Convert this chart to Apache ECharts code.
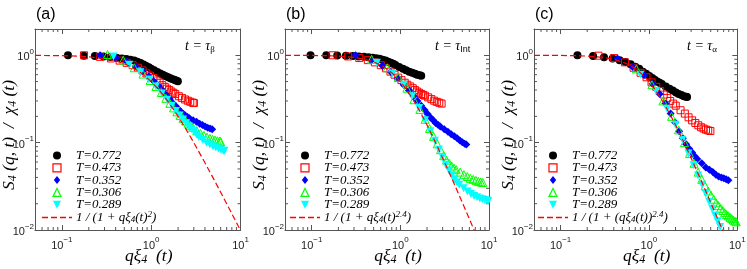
<!DOCTYPE html>
<html><head><meta charset="utf-8">
<script src="https://cdn.jsdelivr.net/npm/echarts@6/dist/echarts.min.js"></script>
<style>html,body{margin:0;padding:0;background:#fff}#c{width:747px;height:269px}</style>
</head><body><div id="c"></div>
<script>
// ---------- categories / labels ----------
const temps = ['T=0.772', 'T=0.473', 'T=0.352', 'T=0.306', 'T=0.289'];
const panelLetters = ['(a)', '(b)', '(c)'];
const panelTimeSub = ['β', 'Int', 'α'];
const fitNames = ['fit2', 'fit24', 'fit24b'];
const xTickValues = [0.1, 1, 10];
const xTickExp = ['−1', '0', '1'];
const yTickValues = [0.01, 0.1, 1];
const yTickExp = ['−2', '−1', '0'];
const xMinor = [0.06,0.07,0.08,0.09,0.2,0.3,0.4,0.5,0.6,0.7,0.8,0.9,2,3,4,5,6,7,8,9];
const yMinor = [0.02,0.03,0.04,0.05,0.06,0.07,0.08,0.09,0.2,0.3,0.4,0.5,0.6,0.7,0.8,0.9];

// ---------- fit curves ----------
const fitA = [[0.05,0.9975],[0.1,0.990],[0.15,0.978],[0.2,0.962],[0.3,0.917],[0.4,0.862],[0.5,0.800],[0.6,0.735],[0.7,0.671],[0.8,0.610],[0.9,0.552],[1.0,0.500],[1.2,0.410],[1.4,0.338],[1.7,0.257],[2,0.200],[2.5,0.138],[3,0.100],[4,0.0588],[5,0.0385],[7,0.0200],[10,0.0099]];
const fitB = [[0.05,0.999],[0.1,0.996],[0.15,0.990],[0.2,0.979],[0.3,0.947],[0.4,0.900],[0.5,0.841],[0.6,0.773],[0.7,0.702],[0.8,0.631],[0.9,0.563],[1.0,0.500],[1.2,0.392],[1.4,0.308],[1.7,0.219],[2,0.159],[2.5,0.0998],[3,0.0668],[4,0.0347],[5,0.0206],[6,0.0134],[7,0.00928]];

// ---------- panel (a) t = tau_beta ----------
const a_T0772 = [[0.117,1.0],[0.176,0.99],[0.234,0.98],[0.293,0.97],[0.351,0.955],[0.41,0.94],[0.468,0.92],[0.527,0.905],[0.585,0.89],[0.644,0.87],[0.70,0.845],[0.76,0.815],[0.82,0.785],[0.88,0.755],[0.94,0.73],[1.0,0.70],[1.08,0.675],[1.17,0.645],[1.26,0.62],[1.35,0.60],[1.44,0.58],[1.53,0.565],[1.62,0.55],[1.71,0.535],[1.81,0.525],[1.90,0.515],[1.99,0.505]];
const a_T0473 = [[0.177,1.0],[0.266,0.96],[0.354,0.92],[0.443,0.87],[0.531,0.82],[0.62,0.77],[0.71,0.72],[0.80,0.67],[0.885,0.62],[0.97,0.585],[1.06,0.55],[1.15,0.515],[1.24,0.485],[1.33,0.455],[1.42,0.435],[1.5,0.415],[1.59,0.40],[1.68,0.385],[1.77,0.372],[1.86,0.36],[2.04,0.34],[2.21,0.325],[2.39,0.312],[2.57,0.302],[2.74,0.294],[2.92,0.287],[3.01,0.284]];
const a_T0352 = [[0.268,1.0],[0.402,0.93],[0.536,0.85],[0.67,0.75],[0.804,0.66],[0.938,0.575],[1.07,0.505],[1.21,0.445],[1.34,0.395],[1.47,0.35],[1.61,0.315],[1.74,0.285],[1.88,0.262],[2.01,0.243],[2.14,0.227],[2.28,0.214],[2.41,0.204],[2.55,0.196],[2.68,0.19],[2.95,0.18],[3.22,0.173],[3.49,0.165],[3.75,0.159],[4.02,0.153],[4.29,0.148],[4.56,0.145],[4.82,0.142]];
const a_T0306 = [[0.324,1.02],[0.486,0.88],[0.648,0.72],[0.81,0.61],[0.972,0.515],[1.13,0.44],[1.30,0.375],[1.46,0.322],[1.62,0.282],[1.78,0.25],[1.94,0.225],[2.11,0.205],[2.27,0.19],[2.43,0.177],[2.59,0.167],[2.75,0.158],[2.92,0.15],[3.24,0.137],[3.56,0.128],[3.89,0.121],[4.21,0.116],[4.54,0.112],[4.86,0.109],[5.18,0.107],[5.51,0.105],[5.83,0.104],[5.99,0.103]];
const a_T0289 = [[0.378,0.97],[0.567,0.78],[0.756,0.64],[0.945,0.53],[1.13,0.44],[1.32,0.365],[1.51,0.31],[1.70,0.265],[1.89,0.23],[2.08,0.205],[2.27,0.184],[2.46,0.167],[2.65,0.153],[2.84,0.142],[3.02,0.132],[3.21,0.124],[3.40,0.117],[3.78,0.107],[4.16,0.10],[4.54,0.095],[4.91,0.091],[5.29,0.088],[5.67,0.085],[6.05,0.083],[6.43,0.081],[6.6,0.08]];

// ---------- panel (b) t = tau_Int ----------
const b_T0772 = [[0.097,1.0],[0.146,1.0],[0.194,0.995],[0.243,0.99],[0.291,0.98],[0.34,0.97],[0.388,0.96],[0.437,0.95],[0.485,0.94],[0.534,0.925],[0.582,0.91],[0.63,0.89],[0.68,0.87],[0.73,0.845],[0.78,0.82],[0.83,0.80],[0.88,0.775],[0.97,0.735],[1.07,0.70],[1.16,0.675],[1.26,0.65],[1.36,0.63],[1.46,0.615],[1.55,0.60],[1.65,0.59],[1.72,0.585]];
const b_T0473 = [[0.172,1.0],[0.258,0.97],[0.344,0.93],[0.43,0.88],[0.516,0.83],[0.602,0.77],[0.688,0.71],[0.774,0.65],[0.86,0.60],[0.946,0.555],[1.03,0.52],[1.12,0.485],[1.2,0.46],[1.29,0.44],[1.38,0.42],[1.46,0.40],[1.55,0.385],[1.63,0.372],[1.72,0.36],[1.81,0.352],[1.89,0.345],[2.06,0.33],[2.24,0.315],[2.41,0.302],[2.58,0.293],[2.75,0.286],[2.92,0.28]];
const b_T0352 = [[0.313,1.0],[0.469,0.87],[0.626,0.76],[0.782,0.645],[0.938,0.545],[1.09,0.46],[1.25,0.395],[1.41,0.34],[1.56,0.30],[1.72,0.265],[1.88,0.237],[2.03,0.213],[2.19,0.194],[2.35,0.18],[2.5,0.168],[2.66,0.16],[2.82,0.153],[3.13,0.142],[3.44,0.133],[3.75,0.125],[4.07,0.118],[4.38,0.112],[4.69,0.106],[5.0,0.101],[5.32,0.097],[5.55,0.095]];
const b_T0306 = [[0.474,0.90],[0.711,0.72],[0.948,0.56],[1.185,0.42],[1.42,0.31],[1.66,0.24],[1.9,0.185],[2.13,0.145],[2.37,0.118],[2.61,0.097],[2.84,0.083],[3.08,0.071],[3.32,0.063],[3.56,0.058],[3.79,0.054],[4.03,0.051],[4.27,0.049],[4.74,0.046],[5.21,0.043],[5.69,0.041],[6.16,0.039],[6.64,0.038],[7.11,0.037],[7.58,0.036],[8.06,0.0355],[8.5,0.035]];
const b_T0289 = [[0.544,0.82],[0.816,0.62],[1.09,0.46],[1.36,0.34],[1.63,0.25],[1.9,0.18],[2.18,0.135],[2.45,0.105],[2.72,0.083],[2.99,0.068],[3.26,0.056],[3.54,0.048],[3.81,0.042],[4.08,0.038],[4.35,0.035],[4.62,0.033],[5.17,0.030],[5.71,0.0275],[6.26,0.0258],[6.8,0.0245],[7.34,0.0237],[7.89,0.023],[8.43,0.0225],[8.98,0.022],[9.5,0.0218],[9.8,0.0215]];

// ---------- panel (c) t = tau_alpha ----------
const c_T0772 = [[0.155,1.0],[0.233,0.98],[0.31,0.95],[0.388,0.92],[0.466,0.88],[0.543,0.84],[0.62,0.79],[0.7,0.74],[0.776,0.70],[0.853,0.65],[0.93,0.615],[1.01,0.58],[1.09,0.55],[1.16,0.525],[1.24,0.50],[1.32,0.485],[1.4,0.47],[1.55,0.44],[1.71,0.415],[1.86,0.395],[2.02,0.375],[2.17,0.36],[2.33,0.35],[2.48,0.34],[2.64,0.335],[2.7,0.333]];
const c_T0473 = [[0.268,0.99],[0.402,0.93],[0.536,0.83],[0.67,0.72],[0.804,0.63],[0.938,0.56],[1.07,0.49],[1.21,0.435],[1.34,0.39],[1.47,0.355],[1.61,0.325],[1.74,0.30],[1.88,0.28],[2.01,0.265],[2.28,0.235],[2.55,0.215],[2.81,0.195],[3.08,0.18],[3.35,0.168],[3.62,0.158],[3.89,0.15],[4.15,0.145],[4.42,0.141],[4.69,0.138],[4.96,0.136]];
const c_T0352 = [[0.44,0.92],[0.66,0.73],[0.88,0.59],[1.1,0.47],[1.32,0.36],[1.54,0.28],[1.76,0.215],[1.98,0.17],[2.2,0.135],[2.42,0.112],[2.64,0.096],[2.86,0.085],[3.08,0.077],[3.3,0.07],[3.52,0.065],[3.96,0.058],[4.4,0.052],[4.84,0.049],[5.28,0.046],[5.72,0.043],[6.16,0.041],[6.6,0.04],[7.04,0.039],[7.48,0.038],[7.92,0.037]];
const c_T0306 = [[0.72,0.70],[1.08,0.46],[1.44,0.30],[1.8,0.20],[2.16,0.14],[2.52,0.10],[2.88,0.075],[3.24,0.058],[3.6,0.046],[3.96,0.038],[4.32,0.032],[4.68,0.028],[5.04,0.025],[5.4,0.0225],[5.76,0.0205],[6.12,0.019],[6.48,0.0177],[6.84,0.0167],[7.2,0.0158],[7.56,0.015],[7.92,0.0145],[8.28,0.014],[8.64,0.0135],[9.0,0.013],[9.36,0.0127],[9.72,0.0124]];
const c_T0289 = [[0.8,0.60],[1.2,0.39],[1.6,0.245],[2.0,0.16],[2.4,0.108],[2.8,0.075],[3.2,0.055],[3.6,0.042],[4.0,0.033],[4.4,0.026],[4.8,0.021],[5.2,0.0175],[5.6,0.0147],[6.0,0.0126],[6.4,0.0108]];

// ---------- assembly ----------
const panelData = [
  [a_T0772, a_T0473, a_T0352, a_T0306, a_T0289],
  [b_T0772, b_T0473, b_T0352, b_T0306, b_T0289],
  [c_T0772, c_T0473, c_T0352, c_T0306, c_T0289]
];
const panelFits = [fitA, fitB, fitB];

const colors = ['#000000', '#ff0000', '#0000ff', '#00ff00', '#00ffff'];
const symbols = ['circle', 'rect', 'diamond', 'triangle', 'triangle'];
const legendIcons = ['circle', 'path://M0,0L10,0L10,10L0,10Z', 'path://M4,0L8,5L4,10L0,5Z',
                     'path://M5,0L10,10L0,10Z', 'path://M0,0L10,0L5,10Z'];
const dashIcon = 'path://M0,0h6v1.3h-6z M9,0h6v1.3h-6z M18,0h6v1.3h-6z M27,0h3v1.3h-3z';
const filled = [true, false, true, false, true];
const rotations = [0, 0, 0, 0, 180];
const sizes = [8, 7, 8, 8, 8];

const grids = [
  {left: 35, top: 29, width: 205.5, height: 201, outerBoundsMode: 'none', containLabel: false},
  {left: 285, top: 29, width: 204, height: 201, outerBoundsMode: 'none', containLabel: false},
  {left: 534, top: 29, width: 203.3, height: 201, outerBoundsMode: 'none', containLabel: false}
];
const legendLeft = [42, 290, 538];
const annotX = [185, 435, 687];

const frameColor = '#555';
const serif = 'Liberation Serif';
const sans = 'Liberation Sans';

const tickRich = {
  b: {fontSize: 11, fontFamily: sans, color: '#222', lineHeight: 15, verticalAlign: 'bottom'},
  s: {fontSize: 8, fontFamily: sans, color: '#222', lineHeight: 9, verticalAlign: 'top'}
};
function tickFmt(vals, exps) {
  return function (v) {
    const i = vals.findIndex(t => Math.abs(Math.log10(t) - Math.log10(v)) < 1e-6);
    if (i < 0) return '';
    return '{b|10}{s|' + exps[i] + '}';
  };
}
const nameRich = {
  i: {fontFamily: serif, fontStyle: 'italic', fontSize: 17.5, color: '#000', lineHeight: 20, verticalAlign: 'middle'},
  sub: {fontFamily: serif, fontStyle: 'italic', fontSize: 12, color: '#000', lineHeight: 10, verticalAlign: 'bottom'}
};
const legRich = {
  t: {fontFamily: serif, fontStyle: 'italic', fontSize: 13, color: '#000', lineHeight: 11.2, verticalAlign: 'middle'},
  f: {fontFamily: serif, fontStyle: 'italic', fontSize: 13, color: '#000', lineHeight: 14, verticalAlign: 'middle'},
  sub: {fontFamily: serif, fontStyle: 'italic', fontSize: 9, color: '#000', lineHeight: 8, verticalAlign: 'bottom'},
  sup: {fontFamily: serif, fontStyle: 'italic', fontSize: 9, color: '#000', lineHeight: 8, verticalAlign: 'top'}
};
const fitLabels = {
  fit2: '{f|1 / (1 + qξ}{sub|4}{f|(t)}{sup|2}{f|)}',
  fit24: '{f|1 / (1 + qξ}{sub|4}{f|(t)}{sup|2.4}{f|)}',
  fit24b: '{f|1 / (1 + (qξ}{sub|4}{f|(t))}{sup|2.4}{f|)}'
};

const xAxes = [], yAxes = [], series = [], legends = [], graphics = [];
for (let p = 0; p < 3; p++) {
  xAxes.push({
    type: 'log', logBase: 10, gridIndex: p, min: 0.05, max: 10, position: 'bottom',
    axisLine: {show: true, lineStyle: {color: frameColor, width: 1}},
    axisTick: {show: true, inside: true, length: 5, lineStyle: {color: frameColor}},
    axisLabel: {formatter: tickFmt(xTickValues, xTickExp), margin: 6, rich: tickRich, showMinLabel: false, showMaxLabel: true},
    splitLine: {show: false},
    name: '{i|qξ}{sub|4}{i|  (t)}', nameLocation: 'middle', nameGap: 16, nameMoveOverlap: false,
    nameTextStyle: {rich: nameRich, padding: [0, 0, 0, 22]}
  });
  xAxes.push({
    type: 'log', logBase: 10, gridIndex: p, min: 0.05, max: 10, position: 'top',
    axisLine: {show: true, lineStyle: {color: frameColor, width: 1}},
    axisTick: {show: true, inside: true, length: 5, lineStyle: {color: frameColor}},
    axisLabel: {show: false}, splitLine: {show: false}
  });
  yAxes.push({
    type: 'log', logBase: 10, gridIndex: p, min: 0.01, max: 2, position: 'left',
    axisLine: {show: true, lineStyle: {color: frameColor, width: 1}},
    axisTick: {show: true, inside: true, length: 5, lineStyle: {color: frameColor}},
    axisLabel: {formatter: tickFmt(yTickValues, yTickExp), margin: 1, rich: tickRich, showMaxLabel: false, showMinLabel: true},
    splitLine: {show: false},
    name: '{i|S}{sub|4}{i| (q, t)  /  χ}{sub|4}{i| (t)}', nameLocation: 'middle', nameGap: 16, nameRotate: 90,
    nameMoveOverlap: false,
    nameTextStyle: {rich: nameRich, padding: [0, 11, 0, 0]}
  });
  yAxes.push({
    type: 'log', logBase: 10, gridIndex: p, min: 0.01, max: 2, position: 'right',
    axisLine: {show: true, lineStyle: {color: frameColor, width: 1}},
    axisTick: {show: true, inside: true, length: 5, lineStyle: {color: frameColor}},
    axisLabel: {show: false}, splitLine: {show: false}
  });

  // minor ticks drawn through the axes' scales
  const minorData = xMinor.map(v => [v, 1, 0]).concat(yMinor.map(v => [1, v, 1]));
  series.push({
    type: 'custom', xAxisIndex: 2 * p, yAxisIndex: 2 * p, silent: true, z: 1,
    data: minorData,
    renderItem: function (params, api) {
      const f = api.value(2);
      const st = {stroke: frameColor, lineWidth: 1};
      if (f === 0) {
        const x = api.value(0);
        const b = api.coord([x, 0.01]);
        const t = api.coord([x, 2]);
        return {type: 'group', children: [
          {type: 'line', shape: {x1: b[0], y1: b[1], x2: b[0], y2: b[1] - 3}, style: st},
          {type: 'line', shape: {x1: t[0], y1: t[1], x2: t[0], y2: t[1] + 3}, style: st}
        ]};
      } else {
        const y = api.value(1);
        const l = api.coord([0.05, y]);
        const r = api.coord([10, y]);
        return {type: 'group', children: [
          {type: 'line', shape: {x1: l[0], y1: l[1], x2: l[0] + 3, y2: l[1]}, style: st},
          {type: 'line', shape: {x1: r[0], y1: r[1], x2: r[0] - 3, y2: r[1]}, style: st}
        ]};
      }
    }
  });

  for (let k = 0; k < 5; k++) {
    series.push({
      type: 'scatter', name: temps[k], xAxisIndex: 2 * p, yAxisIndex: 2 * p,
      data: panelData[p][k], symbol: symbols[k], symbolSize: sizes[k], symbolRotate: rotations[k],
      itemStyle: filled[k] ? {color: colors[k], opacity: 1}
                           : {color: 'transparent', borderColor: colors[k], borderWidth: 1, opacity: 1},
      silent: true, z: 2 + k
    });
  }
  series.push({
    type: 'line', name: fitNames[p], xAxisIndex: 2 * p, yAxisIndex: 2 * p,
    data: panelFits[p], showSymbol: false, symbol: 'none', smooth: false,
    lineStyle: {color: '#ff0000', width: 1.2, type: [6, 3]}, itemStyle: {color: '#ff0000'},
    silent: true, z: 10
  });

  const legData = temps.map((t, k) => ({
    name: t, icon: legendIcons[k],
    itemStyle: filled[k] ? {color: colors[k], borderWidth: 0}
                         : {color: 'transparent', borderColor: colors[k], borderWidth: 1.2}
  }));
  legData.push({name: fitNames[p], icon: dashIcon, itemStyle: {color: '#ff0000', borderWidth: 0}});
  legends.push({
    orient: 'vertical', left: legendLeft[p], top: 149, padding: 0,
    itemWidth: 30, itemHeight: 8, itemGap: -0.7, selectedMode: false,
    symbolKeepAspect: true, symbolRotate: 0,
    textStyle: {rich: legRich, padding: [0, 0, 0, -1]},
    formatter: function (name) { return fitLabels[name] ? fitLabels[name] : '{t|' + name + '}'; },
    data: legData
  });

  graphics.push({
    type: 'text', left: grids[p].left + 1, top: 7,
    style: {text: panelLetters[p], font: '16px "Liberation Sans"', fill: '#000'}
  });
  graphics.push({
    type: 'text', left: annotX[p], top: 39,
    style: {
      text: '{i|t = τ}{s|' + panelTimeSub[p] + '}',
      rich: {
        i: {fontFamily: serif, fontStyle: 'italic', fontSize: 14, fill: '#000', lineHeight: 16, verticalAlign: 'middle'},
        s: {fontFamily: panelTimeSub[p] === 'Int' ? sans : serif, fontSize: 9, fill: '#000', lineHeight: 9, verticalAlign: 'bottom'}
      }
    }
  });
}

const chart = echarts.init(document.getElementById('c'), null, {renderer: 'canvas'});
chart.setOption({
  animation: false,
  backgroundColor: '#fff',
  grid: grids,
  xAxis: xAxes,
  yAxis: yAxes,
  legend: legends,
  series: series,
  graphic: graphics
});
</script>
</body></html>
